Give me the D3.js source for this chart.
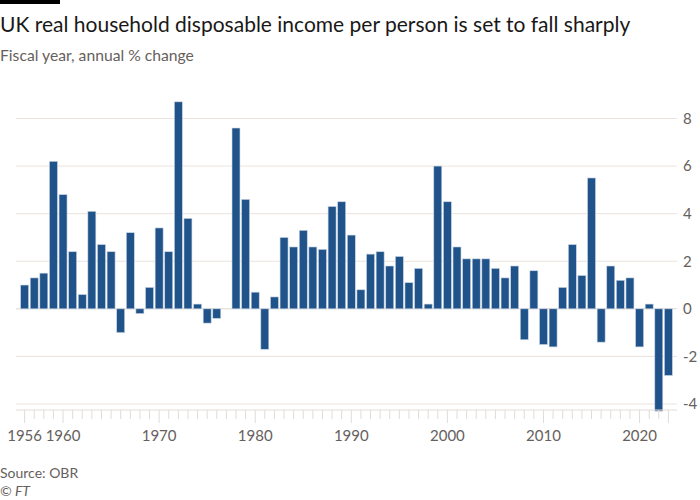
<!DOCTYPE html>
<html>
<head>
<meta charset="utf-8">
<script src="https://cdn.jsdelivr.net/npm/d3@7"></script>
<style>
  body { margin: 0; background: #fff; }
  svg { font-family: Lato, "Noto Sans", sans-serif; }
</style>
</head>
<body>
<svg id="canvas"></svg>
<script>
// fiscal years 1956..2023, one value each (1977 has no bar)
let years = d3.range(1956, 2024);
let changes = [
  1.0, 1.3, 1.5, 6.2, 4.8, 2.4, 0.6, 4.1, 2.7, 2.4,
  -1.0, 3.2, -0.2, 0.9, 3.4, 2.4, 8.7, 3.8, 0.2, -0.6,
  -0.4, 0, 7.6, 4.6, 0.7, -1.7, 0.5, 3.0, 2.6, 3.3,
  2.6, 2.5, 4.3, 4.5, 3.1, 0.8, 2.3, 2.4, 1.8, 2.2,
  1.1, 1.7, 0.2, 6.0, 4.5, 2.6, 2.1, 2.1, 2.1, 1.7,
  1.3, 1.8, -1.3, 1.6, -1.5, -1.6, 0.9, 2.7, 1.4, 5.5,
  -1.4, 1.8, 1.2, 1.3, -1.6, 0.2, -4.3, -2.8
];
let yTicks = [-4, -2, 0, 2, 4, 6, 8];
let xLabels = [1956, 1960, 1970, 1980, 1990, 2000, 2010, 2020];
let longTicks = [1956, 1960, 1970, 1980, 1990, 2000, 2010, 2020, 2023];

let data = years.map((y, i) => ({ year: y, value: changes[i] }));

const width = 700;
const height = 500;

let canvas = d3.select('#canvas')
  .attr('width', width)
  .attr('height', height);

let xScale = d3.scaleBand()
  .domain(years)
  .range([16, 677])
  .paddingInner(0.17)
  .paddingOuter(0.48);

let yScale = d3.scaleLinear()
  .domain([-4, 8])
  .range([404, 118.5]);

// top black stripe
canvas.append('rect')
  .attr('x', 0).attr('y', 0)
  .attr('width', 60).attr('height', 4)
  .attr('fill', '#000');

canvas.append('text')
  .attr('x', 0).attr('y', 32)
  .attr('font-size', 21)
  .attr('fill', '#1a1817')
  .text('UK real household disposable income per person is set to fall sharply');

canvas.append('text')
  .attr('x', 0).attr('y', 61)
  .attr('font-size', 15.7)
  .attr('fill', '#66605c')
  .text('Fiscal year, annual % change');

// gridlines + right labels
let grid = canvas.append('g');
grid.selectAll('line')
  .data(yTicks)
  .enter()
  .append('line')
  .attr('x1', 16).attr('x2', 677)
  .attr('y1', d => yScale(d)).attr('y2', d => yScale(d))
  .attr('stroke', d => d === 0 ? '#ddd6cf' : '#ebe3dc')
  .attr('stroke-width', 1);

grid.selectAll('text')
  .data(yTicks)
  .enter()
  .append('text')
  .attr('x', 683)
  .attr('y', d => yScale(d))
  .attr('dy', '0.35em')
  .attr('font-size', 15)
  .attr('fill', '#66605c')
  .text(d => d);

// bars
canvas.selectAll('.bar')
  .data(data.filter(d => d.value !== 0))
  .enter()
  .append('rect')
  .attr('class', 'bar')
  .attr('x', d => xScale(d.year))
  .attr('width', xScale.bandwidth())
  .attr('y', d => yScale(Math.max(0, d.value)))
  .attr('height', d => Math.abs(yScale(d.value) - yScale(0)))
  .attr('fill', '#1f5389')
  .attr('stroke', '#c9d4e3')
  .attr('stroke-width', 0.6);

// x axis
let xAxis = canvas.append('g');
xAxis.append('line')
  .attr('x1', 16).attr('x2', 677)
  .attr('y1', 410).attr('y2', 410)
  .attr('stroke', '#e2dbd5');

xAxis.selectAll('.tick')
  .data(years)
  .enter()
  .append('line')
  .attr('class', 'tick')
  .attr('x1', d => xScale(d) + xScale.bandwidth() / 2)
  .attr('x2', d => xScale(d) + xScale.bandwidth() / 2)
  .attr('y1', 410)
  .attr('y2', d => longTicks.includes(d) ? 423 : 419)
  .attr('stroke', '#e2dbd5');

xAxis.selectAll('.xlabel')
  .data(xLabels)
  .enter()
  .append('text')
  .attr('class', 'xlabel')
  .attr('x', d => xScale(d) + xScale.bandwidth() / 2)
  .attr('y', 441)
  .attr('text-anchor', 'middle')
  .attr('font-size', 15)
  .attr('fill', '#66605c')
  .text(d => d);

canvas.append('text')
  .attr('x', 0).attr('y', 478)
  .attr('font-size', 14)
  .attr('fill', '#66605c')
  .text('Source: OBR');

canvas.append('text')
  .attr('x', 0).attr('y', 496)
  .attr('font-size', 14)
  .attr('font-style', 'italic')
  .attr('fill', '#66605c')
  .text('© FT');
</script>
</body>
</html>
